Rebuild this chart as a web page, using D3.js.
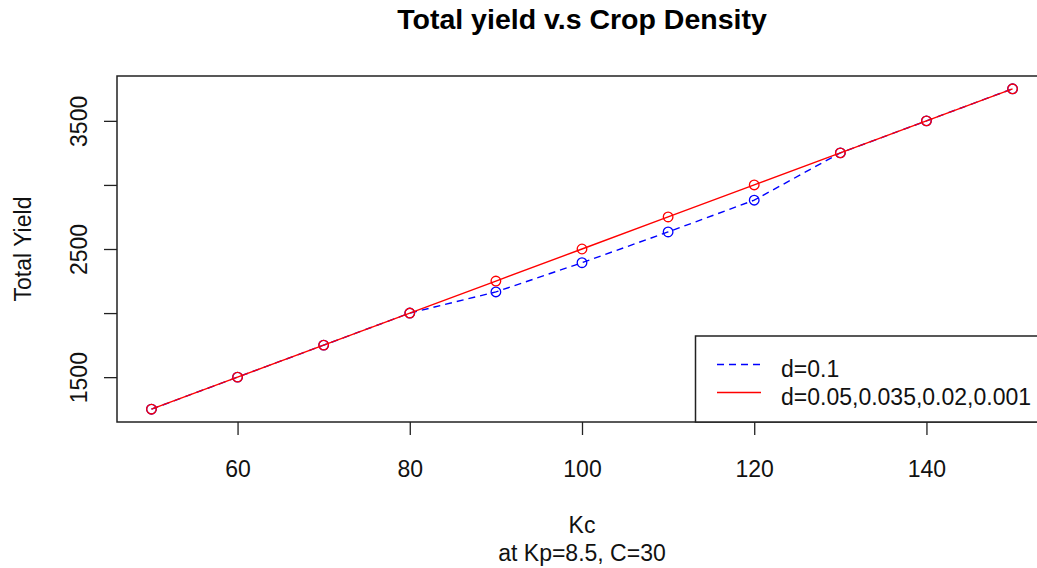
<!DOCTYPE html>
<html>
<head>
<meta charset="utf-8">
<script src="https://cdn.jsdelivr.net/npm/d3@7.9.0/dist/d3.min.js"></script>
<style>
  body { margin: 0; background: #fff; }
  svg { font-family: "Liberation Sans", Arial, sans-serif; }
</style>
</head>
<body>
<svg id="chart" width="1037" height="568"></svg>
<script>
// data
const kc = [50, 60, 70, 80, 90, 100, 110, 120, 130, 140, 150];
const yieldLow = [1250, 1500, 1750, 2000, 2250, 2500, 2750, 3000, 3250, 3500, 3750];   // d=0.05,0.035,0.02,0.001
const yieldHigh = [1250, 1500, 1750, 2000, 2165, 2393, 2633, 2881, 3250, 3500, 3750];  // d=0.1
const xTicks = [60, 80, 100, 120, 140];
const yTicks = [1500, 2000, 2500, 3000, 3500];
const yLabels = [1500, 2500, 3500];
const legendNames = ["d=0.1", "d=0.05,0.035,0.02,0.001"];

const svg = d3.select('#chart');

// plot region (right edge runs past the picture, as in the reference)
const plotLeft = 117, plotRight = 1047, plotTop = 76, plotBottom = 422;

let x = d3.scaleLinear().domain([46, 154]).range([plotLeft, plotRight]);
let y = d3.scaleLinear().domain([1150, 3850]).range([plotBottom, plotTop]);

// axes
let xAxis = d3.axisBottom(x).tickValues(xTicks).tickSize(13).tickPadding(5);
let gx = svg.append('g').attr('transform', `translate(0,${plotBottom})`).call(xAxis);
gx.select('.domain').remove();
gx.selectAll('line').attr('stroke', '#222').attr('stroke-width', 1.3);
gx.selectAll('text').attr('font-size', 23).attr('fill', '#111')
  .attr('dy', null).attr('y', 55);

let yAxis = d3.axisLeft(y).tickValues(yTicks).tickSize(13)
  .tickFormat(d => yLabels.includes(d) ? d : '');
let gy = svg.append('g').attr('transform', `translate(${plotLeft},0)`).call(yAxis);
gy.select('.domain').remove();
gy.selectAll('line').attr('stroke', '#222').attr('stroke-width', 1.3);
gy.selectAll('text')
  .attr('font-size', 23).attr('fill', '#111')
  .attr('text-anchor', 'middle').attr('dy', null).attr('x', null)
  .attr('transform', 'translate(-30,0) rotate(-90)');

// box
svg.append('rect')
  .attr('x', plotLeft).attr('y', plotTop)
  .attr('width', plotRight - plotLeft).attr('height', plotBottom - plotTop)
  .attr('fill', 'none').attr('stroke', '#222').attr('stroke-width', 1.5);

// series
let line = d3.line().x((d, i) => x(kc[i])).y(d => y(d));

function drawSeries(values, color, dash) {
  svg.append('path')
    .attr('d', line(values))
    .attr('fill', 'none')
    .attr('stroke', color)
    .attr('stroke-width', 1.4)
    .attr('stroke-dasharray', dash);
  svg.append('g').selectAll('circle')
    .data(values)
    .join('circle')
    .attr('cx', (d, i) => x(kc[i]))
    .attr('cy', d => y(d))
    .attr('r', 4.8)
    .attr('fill', 'none')
    .attr('stroke', color)
    .attr('stroke-width', 1.3);
}

drawSeries(yieldHigh, 'blue', '7,5');
drawSeries(yieldLow, 'red', null);

// legend (bottom right, inside the plot)
const legX = 695.5, legY = 336;
svg.append('rect')
  .attr('x', legX).attr('y', legY)
  .attr('width', plotRight - legX).attr('height', plotBottom - legY)
  .attr('fill', '#fff').attr('stroke', '#222').attr('stroke-width', 1.5);

const legColors = ['blue', 'red'];
const legDash = ['7,5', null];
legendNames.forEach((name, i) => {
  let ly = 364.5 + i * 28;
  svg.append('line')
    .attr('x1', 717).attr('x2', 761)
    .attr('y1', ly).attr('y2', ly)
    .attr('stroke', legColors[i]).attr('stroke-width', 1.4)
    .attr('stroke-dasharray', legDash[i]);
  svg.append('text')
    .attr('x', 781).attr('y', ly + 12.5)
    .attr('font-size', 23).attr('fill', '#111')
    .text(name);
});

// titles
const cx = (plotLeft + plotRight) / 2;
svg.append('text')
  .attr('x', cx).attr('y', 29)
  .attr('text-anchor', 'middle')
  .attr('font-size', 28.5).attr('font-weight', 'bold')
  .text('Total yield v.s Crop Density');

svg.append('text')
  .attr('x', cx).attr('y', 533)
  .attr('text-anchor', 'middle').attr('font-size', 23).attr('fill', '#111')
  .text('Kc');

svg.append('text')
  .attr('x', cx).attr('y', 561)
  .attr('text-anchor', 'middle').attr('font-size', 23).attr('fill', '#111')
  .text('at Kp=8.5, C=30');

svg.append('text')
  .attr('transform', `translate(31,${(plotTop + plotBottom) / 2}) rotate(-90)`)
  .attr('text-anchor', 'middle').attr('font-size', 23).attr('fill', '#111')
  .text('Total Yield');
</script>
</body>
</html>
